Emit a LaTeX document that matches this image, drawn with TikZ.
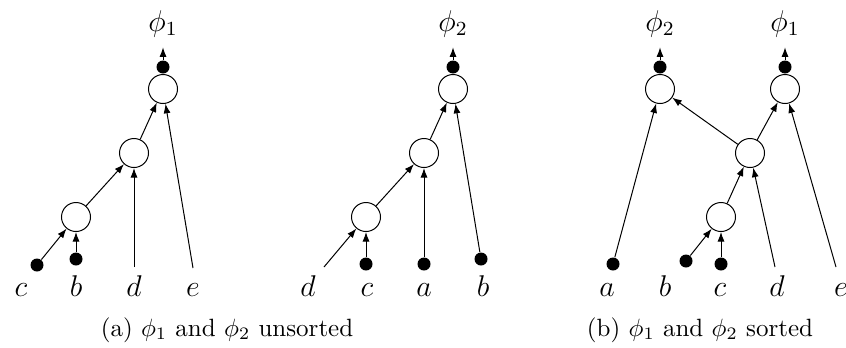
\documentclass[tikz,border=0pt]{standalone}
\usetikzlibrary{arrows.meta}
\begin{document}
\begin{tikzpicture}[x=0.4pt,y=-0.4pt,
  op/.style={circle,draw,line width=0.4pt,minimum size=11.6pt,inner sep=0pt},
  dot/.style={circle,fill=black,minimum size=5.2pt,inner sep=0pt},
  lab/.style={anchor=base,inner sep=0pt,font=\large},
  captext/.style={anchor=base,inner sep=0pt},
  outlab/.style={anchor=base,inner xsep=0pt,inner ysep=4pt,font=\large},
  arr/.style={-{Latex[length=3.8pt,width=2.8pt]},line width=0.4pt}]
\useasboundingbox (0,0) rectangle (846,347);
% ---------- panel (a), phi1
\node[op] (a3) at (163,89) {};
\node[op] (a2) at (134,153) {};
\node[op] (a1) at (76,217) {};
\node[dot,anchor=south] (a3d) at (a3.north) {};
\node[outlab] (aphi) at (163,31) {$\phi_1$};
\node[dot] (ac) at (37,265) {};
\node[dot] (ab) at (76,259) {};
\coordinate (ad) at (134,267);
\coordinate (ae) at (193,268);
\node[lab] (alc) at (21,296) {$c$};
\node[lab] (alb) at (76,296) {$b$};
\node[lab] (ald) at (134,296) {$d$};
\node[lab] (ale) at (193,296) {$e$};
\draw[arr] (a3d) -- (aphi);
\draw[arr] (ac) -- (a1);
\draw[arr] (ab) -- (a1);
\draw[arr] (a1) -- (a2);
\draw[arr] (ad) -- (a2);
\draw[arr] (a2) -- (a3);
\draw[arr] (ae) -- (a3);
% ---------- panel (a), phi2
\node[op] (m3) at (453,89) {};
\node[op] (m2) at (424,153) {};
\node[op] (m1) at (366,217) {};
\node[dot,anchor=south] (m3d) at (m3.north) {};
\node[outlab] (mphi) at (453,31) {$\phi_2$};
\coordinate (md) at (324,267);
\node[dot] (mc) at (366,264) {};
\node[dot] (ma) at (424,264) {};
\node[dot] (mb) at (481,259) {};
\node[lab] (mld) at (308,296) {$d$};
\node[lab] (mlc) at (367,296) {$c$};
\node[lab] (mla) at (424,296) {$a$};
\node[lab] (mlb) at (483,296) {$b$};
\draw[arr] (m3d) -- (mphi);
\draw[arr] (md) -- (m1);
\draw[arr] (mc) -- (m1);
\draw[arr] (m1) -- (m2);
\draw[arr] (ma) -- (m2);
\draw[arr] (m2) -- (m3);
\draw[arr] (mb) -- (m3);
% ---------- panel (b)
\node[op] (bL) at (660,89) {};
\node[op] (bR) at (785,89) {};
\node[op] (bM) at (750,153) {};
\node[op] (bW) at (721,217) {};
\node[dot,anchor=south] (bLd) at (bL.north) {};
\node[dot,anchor=south] (bRd) at (bR.north) {};
\node[outlab] (bphiL) at (660,31) {$\phi_2$};
\node[outlab] (bphiR) at (785,31) {$\phi_1$};
\node[dot] (ba) at (613,264) {};
\node[dot] (bb) at (686,261) {};
\node[dot] (bc) at (721,264) {};
\coordinate (bd) at (775,267);
\coordinate (be) at (836,267);
\node[lab] (bla) at (607,296) {$a$};
\node[lab] (blb) at (665,296) {$b$};
\node[lab] (blc) at (720,296) {$c$};
\node[lab] (bld) at (777,296) {$d$};
\node[lab] (ble) at (841,296) {$e$};
\draw[arr] (bLd) -- (bphiL);
\draw[arr] (bRd) -- (bphiR);
\draw[arr] (ba) -- (bL);
\draw[arr] (bM) -- (bL);
\draw[arr] (bM) -- (bR);
\draw[arr] (be) -- (bR);
\draw[arr] (bW) -- (bM);
\draw[arr] (bd) -- (bM);
\draw[arr] (bb) -- (bW);
\draw[arr] (bc) -- (bW);
% ---------- captions
\node[captext] (capa) at (227,336) {(a) $\phi_1$ and $\phi_2$ unsorted};
\node[captext] (capb) at (700,336) {(b) $\phi_1$ and $\phi_2$ sorted};
\end{tikzpicture}
\end{document}
